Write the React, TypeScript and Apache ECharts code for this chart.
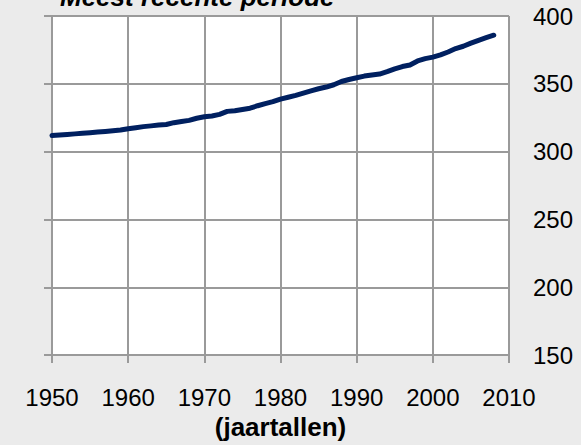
import React, { useEffect, useRef } from "react";
import * as echarts from "echarts";

const years: number[] = [
  1950, 1951, 1952, 1953, 1954, 1955, 1956, 1957, 1958, 1959,
  1960, 1961, 1962, 1963, 1964, 1965, 1966, 1967, 1968, 1969,
  1970, 1971, 1972, 1973, 1974, 1975, 1976, 1977, 1978, 1979,
  1980, 1981, 1982, 1983, 1984, 1985, 1986, 1987, 1988, 1989,
  1990, 1991, 1992, 1993, 1994, 1995, 1996, 1997, 1998, 1999,
  2000, 2001, 2002, 2003, 2004, 2005, 2006, 2007, 2008,
];

const co2: number[] = [
  311.9, 312.3, 312.7, 313.1, 313.5, 313.9, 314.4, 314.9, 315.4, 315.98,
  316.91, 317.64, 318.45, 318.99, 319.62, 320.04, 321.37, 322.18, 323.05, 324.62,
  325.68, 326.32, 327.46, 329.68, 330.19, 331.13, 332.03, 333.84, 335.41, 336.84,
  338.76, 340.12, 341.48, 343.15, 344.85, 346.35, 347.61, 349.31, 351.69, 353.2,
  354.45, 355.7, 356.54, 357.21, 358.96, 360.97, 362.74, 363.88, 366.84, 368.54,
  369.71, 371.32, 373.45, 375.98, 377.7, 379.98, 382.09, 384.02, 385.83,
];

const titleText = "Meest recente periode";
const xAxisName = "(jaartallen)";

const FONT = "'Liberation Sans', Arial, sans-serif";
const GRID_COLOR = "#9a9a9a";

export default function App() {
  const ref = useRef<HTMLDivElement>(null);

  useEffect(() => {
    document.body.style.margin = "0";
    if (!ref.current) return;
    const chart = echarts.init(ref.current, undefined, { renderer: "svg" });
    const data = years.map((y, i) => [y, co2[i]]);
    chart.setOption({
      animation: false,
      backgroundColor: "#ebebeb",
      textStyle: { fontFamily: FONT },
      grid: {
        left: 52,
        right: 72,
        top: 16,
        bottom: 83,
        show: true,
        backgroundColor: "#ffffff",
        borderWidth: 0,
      },
      graphic: [
        {
          type: "text",
          x: 60,
          y: -3,
          style: {
            text: titleText,
            font: `italic bold 26px ${FONT}`,
            fill: "#000000",
            verticalAlign: "middle",
            align: "left",
          },
        },
      ],
      xAxis: {
        type: "value",
        min: 1950,
        max: 2010,
        interval: 10,
        name: xAxisName,
        nameLocation: "middle",
        nameGap: 54,
        nameTextStyle: {
          fontFamily: FONT,
          fontSize: 26,
          fontWeight: "bold",
          color: "#000000",
        },
        axisLine: { show: true, lineStyle: { color: GRID_COLOR, width: 2 } },
        axisTick: { show: true, inside: false, length: 8, lineStyle: { color: GRID_COLOR, width: 2 } },
        splitLine: { show: true, lineStyle: { color: GRID_COLOR, width: 2 } },
        axisLabel: {
          fontFamily: FONT,
          fontSize: 24,
          color: "#000000",
          margin: 30,
          formatter: (v: number) => String(v),
        },
      },
      yAxis: [
        {
          type: "value",
          position: "right",
          min: 150,
          max: 400,
          interval: 50,
          axisLine: { show: false },
          axisTick: { show: false },
          splitLine: { show: true, lineStyle: { color: GRID_COLOR, width: 2 } },
          axisLabel: {
            fontFamily: FONT,
            fontSize: 24,
            color: "#000000",
            margin: 24,
            formatter: (v: number) => String(v),
          },
        },
        {
          type: "value",
          position: "left",
          min: 150,
          max: 400,
          interval: 50,
          axisLine: { show: true, lineStyle: { color: GRID_COLOR, width: 2 } },
          axisTick: { show: true, inside: false, length: 8, lineStyle: { color: GRID_COLOR, width: 2 } },
          splitLine: { show: false },
          axisLabel: { show: false },
        },
      ],
      series: [
        {
          type: "line",
          yAxisIndex: 0,
          data,
          showSymbol: false,
          symbol: "none",
          lineStyle: { color: "#002060", width: 5, cap: "round", join: "round" },
        },
      ],
    });
    return () => chart.dispose();
  }, []);

  return <div ref={ref} style={{ width: 581, height: 445 }} />;
}
